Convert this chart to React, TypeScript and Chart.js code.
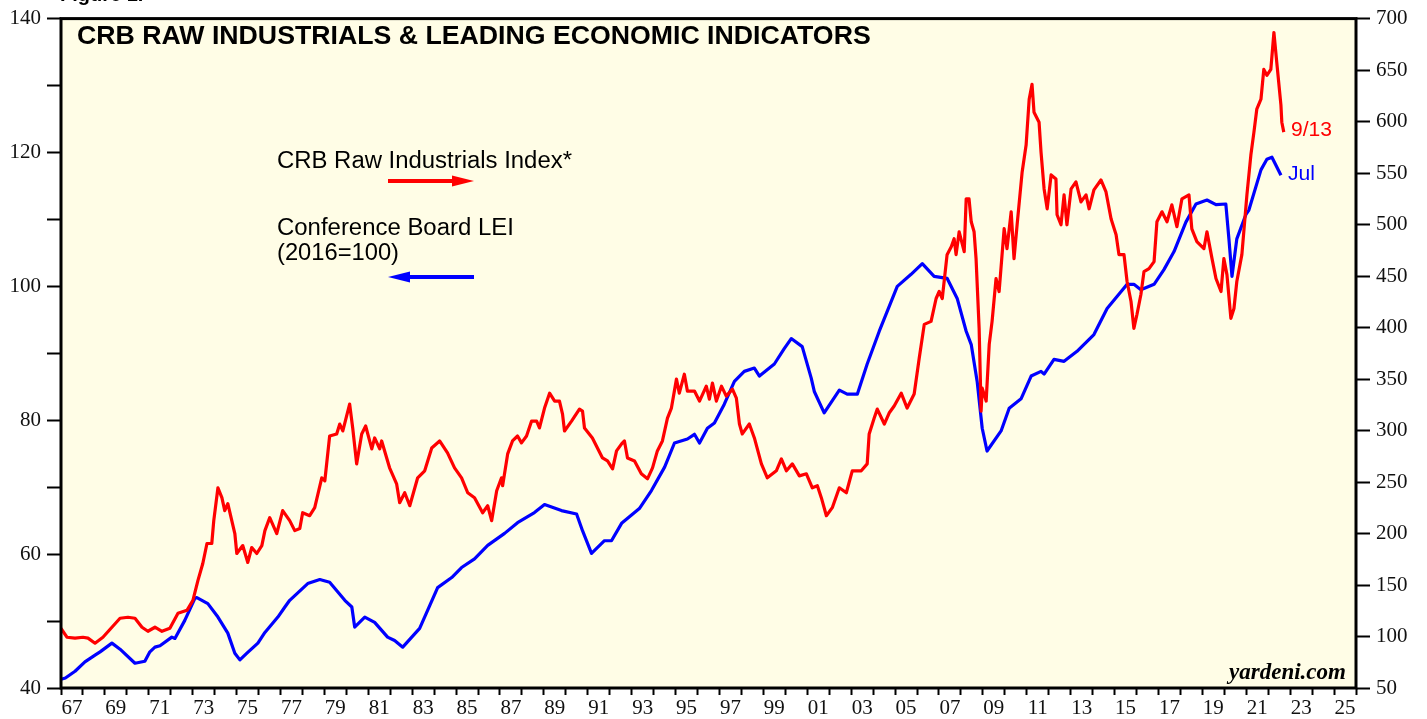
import React, { useEffect, useRef } from 'react';
import { Chart, registerables } from 'chart.js';

Chart.register(...registerables);

// ---- DATA ----
const crbYears = [
  1967.0, 1967.27, 1967.64, 1968.0, 1968.23, 1968.55, 1968.91, 1969.32, 1969.69, 1970.05,
  1970.37, 1970.69, 1970.96, 1971.28, 1971.6, 1971.96, 1972.33, 1972.74, 1973.01, 1973.24,
  1973.46, 1973.65, 1973.87, 1973.96, 1974.15, 1974.33, 1974.46, 1974.6, 1974.92, 1975.01,
  1975.28, 1975.51, 1975.69, 1975.92, 1976.15, 1976.29, 1976.51, 1976.83, 1977.1, 1977.42,
  1977.65, 1977.88, 1978.01, 1978.33, 1978.56, 1978.88, 1979.02, 1979.24, 1979.56, 1979.7,
  1979.84, 1980.15, 1980.29, 1980.47, 1980.7, 1980.88, 1981.16, 1981.29, 1981.52, 1981.61,
  1981.97, 1982.29, 1982.43, 1982.66, 1982.89, 1983.25, 1983.57, 1983.89, 1984.25, 1984.61,
  1984.93, 1985.25, 1985.53, 1985.84, 1986.21, 1986.44, 1986.62, 1986.85, 1987.07, 1987.12,
  1987.35, 1987.57, 1987.8, 1987.98, 1988.21, 1988.44, 1988.67, 1988.8, 1989.03, 1989.26,
  1989.49, 1989.71, 1989.85, 1989.94, 1990.26, 1990.62, 1990.76, 1990.85, 1991.21, 1991.44,
  1991.67, 1991.9, 1992.13, 1992.31, 1992.54, 1992.67, 1992.81, 1993.13, 1993.44, 1993.72,
  1993.95, 1994.17, 1994.4, 1994.63, 1994.81, 1995.04, 1995.17, 1995.4, 1995.54, 1995.86,
  1996.09, 1996.4, 1996.54, 1996.68, 1996.86, 1997.09, 1997.31, 1997.59, 1997.77, 1997.91,
  1998.04, 1998.36, 1998.59, 1998.91, 1999.18, 1999.59, 1999.82, 2000.05, 2000.32, 2000.64,
  2000.96, 2001.23, 2001.46, 2001.64, 2001.87, 2002.14, 2002.46, 2002.78, 2003.05, 2003.46,
  2003.73, 2003.82, 2004.05, 2004.19, 2004.51, 2004.73, 2004.96, 2005.28, 2005.55, 2005.87,
  2006.1, 2006.33, 2006.64, 2006.87, 2007.01, 2007.15, 2007.37, 2007.56, 2007.69, 2007.78,
  2007.92, 2008.15, 2008.24, 2008.37, 2008.47, 2008.6, 2008.69, 2008.83, 2008.92, 2008.97,
  2009.15, 2009.29, 2009.42, 2009.6, 2009.74, 2009.97, 2010.1, 2010.29, 2010.42, 2010.56,
  2010.79, 2010.97, 2011.11, 2011.24, 2011.33, 2011.56, 2011.65, 2011.79, 2011.93, 2012.11,
  2012.33, 2012.38, 2012.56, 2012.7, 2012.83, 2013.02, 2013.24, 2013.47, 2013.7, 2013.84,
  2014.06, 2014.38, 2014.61, 2014.84, 2015.07, 2015.2, 2015.43, 2015.57, 2015.75, 2015.88,
  2016.02, 2016.2, 2016.34, 2016.57, 2016.8, 2016.93, 2017.16, 2017.39, 2017.61, 2017.84,
  2018.07, 2018.39, 2018.52, 2018.75, 2019.07, 2019.21, 2019.44, 2019.62, 2019.85, 2019.98,
  2020.12, 2020.3, 2020.44, 2020.57, 2020.8, 2021.03, 2021.21, 2021.35, 2021.48, 2021.67,
  2021.8, 2021.94, 2022.12, 2022.26, 2022.39, 2022.58, 2022.62, 2022.71,
];
const crbValues = [
  108.0, 99.3, 98.4, 99.3, 98.4, 93.5, 99.3, 109.0, 117.7, 118.7,
  117.7, 109.0, 105.1, 109.0, 105.0, 108.0, 122.5, 125.4, 135.1, 154.5,
  170.9, 190.3, 190.3, 212.5, 244.4, 234.8, 222.2, 229.0, 200.0, 180.6,
  188.3, 171.9, 186.4, 180.6, 188.3, 202.8, 215.4, 200.0, 222.2, 212.5,
  202.8, 204.8, 220.2, 217.3, 225.1, 254.1, 251.2, 294.7, 296.7, 306.3,
  299.6, 325.7, 302.5, 267.6, 296.7, 304.4, 282.2, 292.8, 282.2, 289.9,
  263.8, 248.3, 229.9, 239.6, 227.0, 254.1, 260.9, 283.1, 289.9, 278.3,
  263.8, 254.1, 239.6, 234.8, 220.2, 227.0, 212.5, 241.5, 254.1, 246.4,
  277.3, 289.9, 294.7, 288.0, 294.7, 309.2, 309.2, 302.5, 321.8, 336.3,
  328.6, 328.6, 316.0, 299.6, 309.2, 320.8, 318.9, 302.5, 292.8, 283.1,
  273.4, 270.5, 262.8, 280.2, 287.0, 289.9, 273.4, 270.5, 258.0, 253.1,
  263.8, 280.2, 289.9, 312.1, 321.8, 349.9, 336.3, 354.7, 338.3, 338.3,
  328.6, 343.1, 330.5, 346.0, 328.6, 343.1, 333.4, 340.2, 331.5, 306.3,
  296.7, 306.3, 292.8, 267.6, 254.1, 260.9, 272.5, 260.9, 267.6, 256.0,
  258.0, 244.4, 246.4, 234.8, 217.3, 225.1, 244.4, 239.6, 260.9, 260.9,
  267.6, 296.7, 312.1, 320.8, 306.3, 317.0, 323.8, 336.3, 321.8, 335.4,
  370.2, 403.1, 406.0, 428.2, 435.0, 428.2, 470.8, 478.5, 486.3, 470.8,
  493.0, 473.7, 525.0, 525.0, 502.7, 493.0, 466.9, 399.2, 318.9, 341.2,
  328.6, 383.7, 406.0, 447.6, 435.0, 496.0, 476.6, 512.4, 466.9, 499.8,
  551.1, 577.2, 621.7, 636.2, 609.1, 599.4, 570.4, 534.6, 515.3, 548.2,
  544.3, 509.5, 499.8, 528.8, 499.8, 534.6, 541.4, 522.0, 528.8, 515.3,
  533.7, 543.3, 531.7, 505.6, 490.1, 470.8, 470.8, 444.7, 425.3, 399.2,
  412.7, 432.1, 454.3, 457.2, 464.0, 502.7, 512.4, 502.7, 519.1, 497.9,
  525.0, 528.8, 495.9, 483.4, 476.6, 493.0, 466.9, 447.6, 435.0, 466.9,
  451.4, 408.9, 418.5, 444.7, 470.8, 528.8, 567.5, 589.8, 612.0, 621.7,
  650.7, 644.9, 650.7, 686.5, 657.5, 615.9, 599.4, 589.8,
];

const leiYears = [
  1967.0, 1967.2, 1967.64, 1968.09, 1968.55, 1968.78, 1969.32, 1969.69, 1970.37, 1970.82,
  1971.05, 1971.28, 1971.51, 1972.05, 1972.19, 1972.64, 1973.1, 1973.19, 1973.69, 1974.15,
  1974.6, 1974.92, 1975.15, 1975.47, 1975.97, 1976.29, 1976.88, 1977.2, 1977.42, 1978.24,
  1978.79, 1979.24, 1979.93, 1980.25, 1980.38, 1980.84, 1981.29, 1981.88, 1982.2, 1982.57,
  1983.34, 1984.16, 1984.8, 1985.25, 1985.84, 1986.44, 1987.21, 1987.8, 1988.57, 1989.03,
  1989.8, 1990.49, 1990.76, 1991.17, 1991.76, 1992.08, 1992.54, 1993.35, 1993.9, 1994.5,
  1994.95, 1995.54, 1995.86, 1996.09, 1996.45, 1996.77, 1997.22, 1997.68, 1998.13, 1998.59,
  1998.82, 1999.5, 1999.95, 2000.27, 2000.77, 2001.18, 2001.32, 2001.77, 2002.46, 2002.82,
  2003.28, 2003.73, 2004.28, 2005.1, 2005.73, 2006.24, 2006.78, 2007.37, 2007.83, 2008.24,
  2008.47, 2008.74, 2008.97, 2009.19, 2009.83, 2010.2, 2010.74, 2011.2, 2011.65, 2011.79,
  2012.24, 2012.7, 2013.29, 2014.06, 2014.66, 2015.29, 2015.57, 2015.88, 2016.2, 2016.8,
  2017.25, 2017.71, 2018.25, 2018.71, 2019.21, 2019.62, 2020.07, 2020.21, 2020.35, 2020.57,
  2020.98, 2021.12, 2021.67, 2021.94, 2022.17, 2022.58,
];
const leiValues = [
  41.3, 41.5, 42.5, 43.9, 44.9, 45.4, 46.7, 45.8, 43.7, 44.0,
  45.4, 46.1, 46.3, 47.6, 47.4, 50.1, 53.4, 53.5, 52.6, 50.6,
  48.2, 45.2, 44.2, 45.2, 46.7, 48.3, 50.6, 52.1, 53.1, 55.6,
  56.2, 55.8, 53.1, 52.1, 49.1, 50.6, 49.8, 47.6, 47.1, 46.1,
  48.9, 55.0, 56.5, 58.0, 59.3, 61.3, 63.1, 64.7, 66.2, 67.4,
  66.5, 66.0, 63.5, 60.1, 62.0, 62.0, 64.6, 66.8, 69.5, 73.0,
  76.6, 77.2, 77.9, 76.6, 78.8, 79.6, 82.4, 85.8, 87.3, 87.8,
  86.6, 88.4, 90.7, 92.2, 91.0, 86.3, 84.3, 81.1, 84.5, 83.9,
  83.9, 88.4, 93.3, 100.0, 101.8, 103.4, 101.5, 101.2, 98.2, 93.3,
  91.3, 85.8, 78.8, 75.4, 78.4, 81.8, 83.2, 86.6, 87.3, 86.9,
  89.1, 88.8, 90.3, 92.8, 96.7, 99.2, 100.3, 100.3, 99.5, 100.3,
  102.5, 105.2, 109.6, 112.3, 112.9, 112.2, 112.3, 107.1, 101.5, 107.1,
  110.7, 111.4, 117.4, 119.0, 119.3, 116.6,
];

const xStart = 1967;
const xEnd = 2026;
const leftMin = 40;
const leftMax = 140;
const rightMin = 50;
const rightMax = 700;

const titleText = 'CRB RAW INDUSTRIALS & LEADING ECONOMIC INDICATORS';
const crbLabel = 'CRB Raw Industrials Index*';
const leiLabel1 = 'Conference Board LEI';
const leiLabel2 = '(2016=100)';
const crbEndLabel = '9/13';
const leiEndLabel = 'Jul';
const sourceText = 'yardeni.com';

const RED = '#ff0000';
const BLUE = '#0000ff';
const SANS = '"Liberation Sans", Arial, Helvetica, sans-serif';
const SERIF = '"Liberation Serif", "Times New Roman", serif';

function fitText(ctx: CanvasRenderingContext2D, text: string, style: string, family: string, x: number, y: number, width: number, color: string, align: CanvasTextAlign = 'left') {
  const base = 20;
  ctx.font = `${style} ${base}px ${family}`;
  const w = ctx.measureText(text).width;
  const size = (base * width) / w;
  ctx.font = `${style} ${size.toFixed(2)}px ${family}`;
  ctx.fillStyle = color;
  ctx.textAlign = align;
  ctx.textBaseline = 'middle';
  ctx.fillText(text, x, y);
}

const decorPlugin = {
  id: 'decor',
  beforeDraw(chart: any) {
    const { ctx, chartArea: a } = chart;
    ctx.save();
    ctx.fillStyle = '#ffffff';
    ctx.fillRect(0, 0, chart.width, chart.height);
    ctx.fillStyle = '#fffde6';
    ctx.fillRect(a.left, a.top, a.right - a.left, a.bottom - a.top);
    ctx.restore();
  },
  afterDraw(chart: any) {
    const { ctx, chartArea: a } = chart;
    ctx.save();
    // frame
    ctx.strokeStyle = '#000';
    ctx.lineWidth = 3;
    ctx.strokeRect(a.left, a.top, a.right - a.left, a.bottom - a.top);

    // cropped caption at very top
    ctx.font = `bold 20px ${SANS}`;
    ctx.fillStyle = '#000';
    ctx.textAlign = 'left';
    ctx.textBaseline = 'alphabetic';
    ctx.fillText('Figure 1.', 60, 1);

    // title
    fitText(ctx, titleText, 'bold', SANS, 77, 37, 794, '#000');
    // legend texts
    fitText(ctx, crbLabel, 'normal', SANS, 277, 161, 295, '#000');
    fitText(ctx, leiLabel1, 'normal', SANS, 277, 228, 237, '#000');
    fitText(ctx, leiLabel2, 'normal', SANS, 277, 253, 122, '#000');

    // red arrow (right)
    ctx.strokeStyle = RED;
    ctx.fillStyle = RED;
    ctx.lineWidth = 4;
    ctx.beginPath();
    ctx.moveTo(388, 181);
    ctx.lineTo(456, 181);
    ctx.stroke();
    ctx.beginPath();
    ctx.moveTo(452, 175.5);
    ctx.lineTo(474, 181);
    ctx.lineTo(452, 186.5);
    ctx.closePath();
    ctx.fill();

    // blue arrow (left)
    ctx.strokeStyle = BLUE;
    ctx.fillStyle = BLUE;
    ctx.beginPath();
    ctx.moveTo(406, 277);
    ctx.lineTo(474, 277);
    ctx.stroke();
    ctx.beginPath();
    ctx.moveTo(388, 277);
    ctx.lineTo(410, 271.5);
    ctx.lineTo(410, 282.5);
    ctx.closePath();
    ctx.fill();

    // end labels
    fitText(ctx, crbEndLabel, 'normal', SANS, 1291, 130, 41, RED);
    fitText(ctx, leiEndLabel, 'normal', SANS, 1288, 174, 27, BLUE);

    // source
    fitText(ctx, sourceText, 'italic bold', SERIF, 1346, 673, 117, '#000', 'right');
    ctx.restore();
  },
};

const xTickValues: number[] = [];
for (let v = xStart; v <= xEnd; v += 0.5) xTickValues.push(v);

export default function App() {
  const canvasRef = useRef<HTMLCanvasElement | null>(null);

  useEffect(() => {
    document.body.style.margin = '0';
    document.body.style.overflow = 'hidden';
    const canvas = canvasRef.current;
    if (!canvas) return;

    const crbData = crbYears.map((x, i) => ({ x, y: crbValues[i] }));
    const leiData = leiYears.map((x, i) => ({ x, y: leiValues[i] }));

    const tickFont = { family: SERIF, size: 21 };

    const chart = new Chart(canvas, {
      type: 'line',
      data: {
        datasets: [
          {
            label: crbLabel,
            data: crbData,
            yAxisID: 'yR',
            borderColor: RED,
            borderWidth: 3.2,
            pointRadius: 0,
            tension: 0,
            borderJoinStyle: 'round',
            fill: false,
          },
          {
            label: leiLabel1,
            data: leiData,
            yAxisID: 'yL',
            borderColor: BLUE,
            borderWidth: 3.2,
            pointRadius: 0,
            tension: 0,
            borderJoinStyle: 'round',
            fill: false,
          },
        ],
      },
      options: {
        responsive: true,
        maintainAspectRatio: false,
        animation: false,
        events: [],
        layout: { padding: { top: 16, left: 0, right: 0, bottom: 0 } },
        plugins: {
          legend: { display: false },
          tooltip: { enabled: false },
          title: { display: false },
        },
        scales: {
          x: {
            type: 'linear',
            min: xStart,
            max: xEnd,
            afterBuildTicks: (scale: any) => {
              scale.ticks = xTickValues.map((value) => ({ value }));
            },
            afterFit: (scale: any) => {
              scale.height = 31;
            },
            border: { display: false },
            grid: {
              drawOnChartArea: false,
              drawTicks: true,
              tickLength: 7,
              tickWidth: 2,
              tickColor: (ctx: any) =>
                ctx.tick && Number.isInteger(ctx.tick.value) ? '#000' : 'rgba(0,0,0,0)',
            },
            ticks: {
              autoSkip: false,
              maxRotation: 0,
              minRotation: 0,
              padding: 1,
              color: '#111',
              font: tickFont,
              callback: (value: any) => {
                const v = Number(value);
                const yr = Math.floor(v);
                if (Math.abs(v - yr - 0.5) < 1e-6 && yr % 2 === 1) {
                  return String(yr % 100).padStart(2, '0');
                }
                return '';
              },
            },
          },
          yL: {
            type: 'linear',
            position: 'left',
            min: leftMin,
            max: leftMax,
            afterFit: (scale: any) => {
              scale.width = 61;
            },
            border: { display: false },
            grid: {
              drawOnChartArea: false,
              drawTicks: true,
              tickLength: 14,
              tickWidth: 2,
              tickColor: '#000',
            },
            ticks: {
              stepSize: 10,
              padding: 6,
              color: '#111',
              font: tickFont,
              callback: (value: any) => (Number(value) % 20 === 0 ? String(value) : ''),
            },
          },
          yR: {
            type: 'linear',
            position: 'right',
            min: rightMin,
            max: rightMax,
            afterFit: (scale: any) => {
              scale.width = 71;
            },
            border: { display: false },
            grid: {
              drawOnChartArea: false,
              drawTicks: true,
              tickLength: 14,
              tickWidth: 2,
              tickColor: '#000',
            },
            ticks: {
              stepSize: 50,
              padding: 6,
              color: '#111',
              font: tickFont,
              callback: (value: any) => String(value),
            },
          },
        },
      },
      plugins: [decorPlugin],
    } as any);

    return () => chart.destroy();
  }, []);

  return (
    <div style={{ position: 'absolute', left: 0, top: 0, width: 1427, height: 719, background: '#fff' }}>
      <canvas ref={canvasRef} />
    </div>
  );
}
